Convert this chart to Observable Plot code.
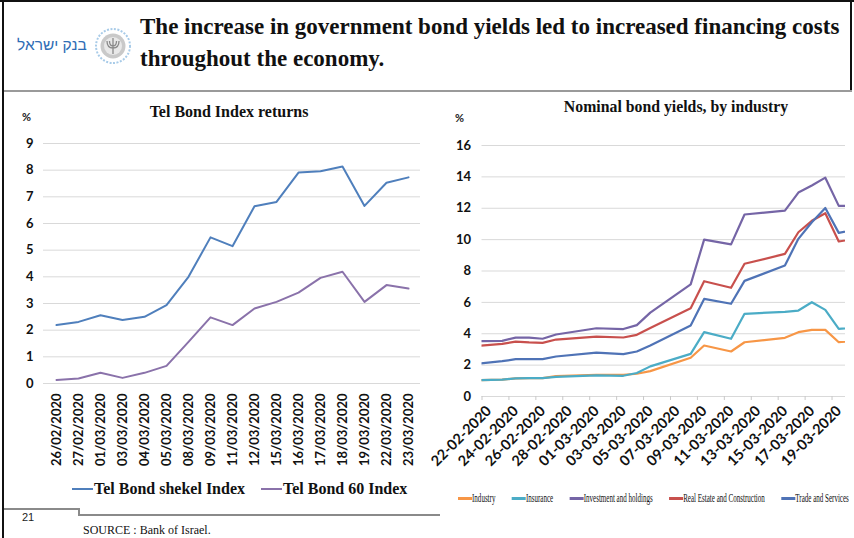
<!DOCTYPE html>
<html>
<head>
<meta charset="utf-8">
<script src="https://cdn.jsdelivr.net/npm/d3@7"></script>
<script src="https://cdn.jsdelivr.net/npm/@observablehq/plot@0.6"></script>
<style>
  body { margin: 0; background: #fff; }
  #page { position: relative; width: 854px; height: 538px; overflow: hidden; background: #fff; font-family: "Liberation Serif", serif; }
  .abs { position: absolute; white-space: nowrap; }
  .line { position: absolute; }
  #leftChart, #rightChart { position: absolute; }
  .pct { position: absolute; font-family: Lato, sans-serif; font-weight: bold; font-size: 11px; color: #222; }
  .ttl { position: absolute; font-family: "Liberation Serif", serif; font-weight: bold; color: #111; transform: translateX(-50%); white-space: nowrap; }
  #leftLegend { position: absolute; left: 72px; top: 480px; width: 600px; display: flex; align-items: center; white-space: nowrap; font-family: "Liberation Serif", serif; font-weight: bold; font-size: 16px; color: #111; }
  #leftLegend .item { display: flex; align-items: center; margin-right: 16px; flex-shrink: 0; }
  #leftLegend .sw { width: 21px; height: 2px; margin-right: 1px; }
  #rightLegend { position: absolute; left: 458px; top: 492px; width: 800px; display: flex; align-items: center; white-space: nowrap; font-family: "Liberation Serif", serif; font-size: 11.5px; color: #111; transform: scaleX(0.61); transform-origin: 0 50%; }
  #rightLegend .item { display: flex; align-items: center; margin-right: 27px; flex-shrink: 0; }
  #rightLegend .sw { width: 23px; height: 3px; margin-right: 0px; }
</style>
</head>
<body>
<div id="page">
  <!-- frame -->
  <div class="line" style="left:0;top:0;width:854px;height:2px;background:#111;"></div>
  <div class="line" style="left:2px;top:0;width:2px;height:538px;background:#111;"></div>
  <div class="line" style="left:850px;top:0;width:1.5px;height:92px;background:#111;"></div>
  <div class="line" style="left:4px;top:90px;width:848px;height:2px;background:#9a9a9a;"></div>
  <!-- logo -->
  <div class="abs" style="left:17px;top:36px;font-family:'Liberation Sans',sans-serif;font-size:15.5px;color:#2f6db5;direction:rtl;">בנק ישראל</div>
  <svg class="abs" style="left:94px;top:27px;" width="38" height="38" viewBox="0 0 38 38">
    <circle cx="19" cy="19" r="17" fill="none" stroke="#a8cbe8" stroke-width="2" stroke-dasharray="2 1.5"/>
    <circle cx="19" cy="19" r="12.5" fill="#c9c9c9"/>
    <circle cx="19" cy="19" r="9" fill="#e8e8e8"/>
    <path d="M19 11 V27 M13 14 Q13 21 19 21 Q25 21 25 14 M15.5 14 Q15.5 19 19 19 Q22.5 19 22.5 14" fill="none" stroke="#8a8a8a" stroke-width="1.3"/>
  </svg>
  <!-- header title -->
  <div class="abs" style="left:140px;top:11px;font-family:'Liberation Serif',serif;font-weight:bold;font-size:23px;line-height:32px;color:#111;">The increase in government bond yields led to increased financing costs<br>throughout the economy.</div>

  <!-- left panel text -->
  <div class="pct" style="left:22px;top:110px;">%</div>
  <div class="ttl" style="left:229px;top:103px;font-size:16px;">Tel Bond Index returns</div>
  <div id="leftChart" style="left:0;top:130px;"></div>
  <div id="leftLegend"></div>

  <!-- right panel text -->
  <div class="pct" style="left:455px;top:111px;">%</div>
  <div class="ttl" style="left:676px;top:98px;font-size:15.8px;">Nominal bond yields, by industry</div>
  <div id="rightChart" style="left:440px;top:130px;"></div>
  <div id="rightLegend"></div>

  <!-- footer -->
  <div class="line" style="left:4px;top:508px;width:75px;height:1.5px;background:#8a8a8a;"></div>
  <div class="line" style="left:78px;top:508px;width:1.5px;height:7px;background:#8a8a8a;"></div>
  <div class="line" style="left:78px;top:514px;width:362px;height:1.5px;background:#8a8a8a;"></div>
  <div class="abs" style="left:22px;top:511px;font-family:'Liberation Sans',sans-serif;font-size:11px;color:#222;">21</div>
  <div class="abs" style="left:83px;top:523px;font-family:'Liberation Serif',serif;font-size:12px;color:#111;">SOURCE : Bank of Israel.</div>
</div>

<script>
// ---------- Left chart data: Tel Bond Index returns (%) ----------
const leftDates = ["26/02/2020","27/02/2020","01/03/2020","03/03/2020","04/03/2020","05/03/2020","08/03/2020","09/03/2020","11/03/2020","12/03/2020","15/03/2020","16/03/2020","17/03/2020","18/03/2020","19/03/2020","22/03/2020","23/03/2020"];
const shekelIndex = [2.19,2.31,2.56,2.38,2.50,2.94,4.00,5.48,5.15,6.65,6.81,7.91,7.96,8.14,6.66,7.53,7.73];
const tel60Index  = [0.13,0.19,0.40,0.21,0.40,0.66,1.56,2.48,2.19,2.81,3.06,3.41,3.96,4.19,3.06,3.69,3.56];
const leftSeries = ["Tel Bond shekel Index","Tel Bond 60 Index"];
const leftColors = ["#4f7fbc","#8a72aa"];
const leftYTicks = [0,1,2,3,4,5,6,7,8,9];

// ---------- Right chart data: Nominal bond yields by industry (%) ----------
const rightDates = ["2020-02-20","2020-02-23","2020-02-24","2020-02-25","2020-02-26","2020-02-27","2020-03-01","2020-03-03","2020-03-04","2020-03-05","2020-03-08","2020-03-09","2020-03-11","2020-03-12","2020-03-15","2020-03-16","2020-03-17","2020-03-18","2020-03-19","2020-03-22"];
const industry   = [1.02,1.08,1.15,1.17,1.17,1.30,1.38,1.38,1.45,1.62,2.47,3.25,2.87,3.46,3.74,4.10,4.25,4.25,3.46,3.65];
const insurance  = [1.02,1.08,1.15,1.17,1.17,1.25,1.35,1.32,1.50,1.92,2.72,4.10,3.68,5.27,5.40,5.48,6.01,5.52,4.31,4.50];
const investment = [3.50,3.55,3.75,3.75,3.68,3.95,4.35,4.30,4.55,5.35,7.15,10.00,9.70,11.60,11.85,13.00,13.45,13.95,12.15,12.15];
const realEstate = [3.15,3.35,3.50,3.45,3.42,3.63,3.82,3.76,3.93,4.36,5.63,7.35,6.93,8.46,9.09,10.47,11.20,11.68,9.88,10.30];
const trade      = [1.99,2.25,2.38,2.38,2.38,2.55,2.80,2.70,2.87,3.25,4.53,6.22,5.91,7.37,8.35,10.05,11.11,12.02,10.43,10.90];
const rightSeries = ["Industry","Insurance","Investment and holdings","Real Estate and Construction","Trade and Services"];
const rightColors = ["#f79646","#4bacc6","#7565a6","#c8504d","#4f73b6"];
const rightXTicks = ["2020-02-22","2020-02-24","2020-02-26","2020-02-28","2020-03-01","2020-03-03","2020-03-05","2020-03-07","2020-03-09","2020-03-11","2020-03-13","2020-03-15","2020-03-17","2020-03-19"];
const rightXDomain = ["2020-02-22","2020-03-20"];
const rightYTicks = [0,2,4,6,8,10,12,14,16];

// ---------- Left chart ----------
const leftRows = [];
leftDates.forEach((d, i) => {
  leftRows.push({date: d, series: leftSeries[0], value: shekelIndex[i]});
  leftRows.push({date: d, series: leftSeries[1], value: tel60Index[i]});
});

const leftPlot = Plot.plot({
  width: 440, height: 340,
  marginLeft: 43, marginRight: 20, marginTop: 13, marginBottom: 87,
  style: {background: "transparent", color: "#111", fontFamily: "Lato, sans-serif", fontWeight: "bold", fontSize: "13px", overflow: "visible"},
  x: {type: "point", domain: leftDates, padding: 0.52, label: null},
  y: {domain: [0, 9], label: null},
  color: {domain: leftSeries, range: leftColors},
  marks: [
    Plot.ruleY(leftYTicks, {stroke: "#d9d9d9"}),
    Plot.axisY({ticks: leftYTicks, tickSize: 0, tickPadding: 10, label: null}),
    Plot.axisX({tickRotate: -90, tickSize: 0, tickPadding: 10, label: null}),
    Plot.line(leftRows, {x: "date", y: "value", z: "series", stroke: "series", strokeWidth: 2})
  ]
});
document.getElementById("leftChart").appendChild(leftPlot);

// ---------- Right chart ----------
const utc = (s, h) => new Date(s + "T" + h + ":00:00Z");
const rightValues = [industry, insurance, investment, realEstate, trade];
const rightRows = [];
rightSeries.forEach((s, k) => {
  rightDates.forEach((d, i) => rightRows.push({date: utc(d, "12"), series: s, value: rightValues[k][i]}));
});

const rightPlot = Plot.plot({
  width: 414, height: 350,
  marginLeft: 41.5, marginRight: 9, marginTop: 15, marginBottom: 84,
  style: {background: "transparent", color: "#111", fontFamily: "Lato, sans-serif", fontWeight: "bold", fontSize: "14.5px", overflow: "visible"},
  x: {type: "utc", domain: rightXDomain.map(d => utc(d, "00")), label: null},
  y: {domain: [0, 16], label: null},
  color: {domain: rightSeries, range: rightColors},
  marks: [
    Plot.ruleY(rightYTicks, {stroke: "#d9d9d9"}),
    Plot.axisY({ticks: rightYTicks, tickSize: 0, tickPadding: 11, label: null, fontSize: 13}),
    Plot.axisX({ticks: rightXTicks.map(d => utc(d, "00")), tickSize: 4, stroke: "#c8c8c8", text: null, label: null}),
    Plot.axisX({ticks: rightXTicks.map(d => utc(d, "00")), tickFormat: d3.utcFormat("%d-%m-%Y"), tickRotate: -45, tickSize: 0, tickPadding: 12, dx: 7, fill: "#111", label: null}),
    Plot.line(rightRows, {x: "date", y: "value", z: "series", stroke: "series", strokeWidth: 2.2, clip: true})
  ]
});
document.getElementById("rightChart").appendChild(rightPlot);

// ---------- Legends ----------
function legend(id, names, colors) {
  const el = document.getElementById(id);
  names.forEach((n, i) => {
    const item = document.createElement("div");
    item.className = "item";
    const sw = document.createElement("span");
    sw.className = "sw";
    sw.style.background = colors[i];
    const tx = document.createElement("span");
    tx.textContent = n;
    item.appendChild(sw); item.appendChild(tx);
    el.appendChild(item);
  });
}
legend("leftLegend", leftSeries, leftColors);
legend("rightLegend", rightSeries, rightColors);
</script>
</body>
</html>
